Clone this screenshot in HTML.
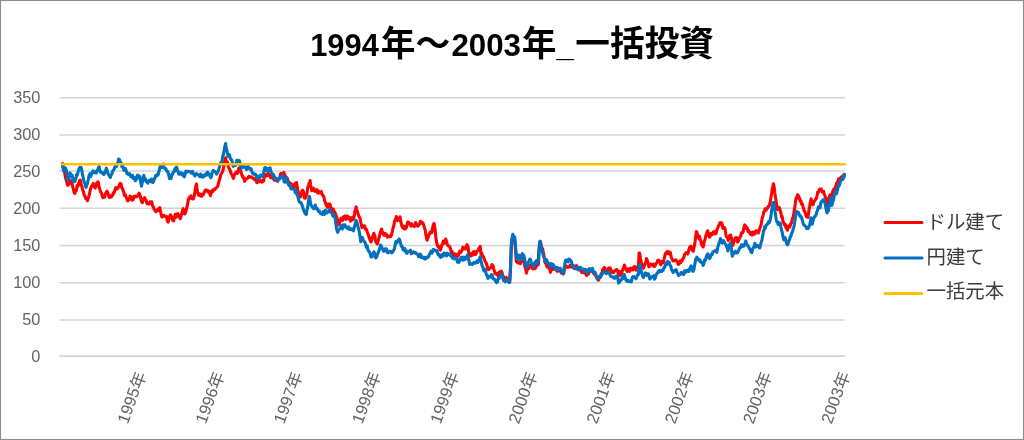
<!DOCTYPE html>
<html lang="ja">
<head>
<meta charset="utf-8">
<title>1994年～2003年_一括投資</title>
<style>
html,body{margin:0;padding:0;background:#fff;}
body{width:1024px;height:440px;overflow:hidden;font-family:"Liberation Sans","Noto Sans CJK JP",sans-serif;}
#chart{position:absolute;left:0;top:0;width:1024px;height:440px;box-sizing:border-box;background:#fff;}
svg{position:absolute;left:0;top:0;display:block;}
svg text{font-family:"Liberation Sans","Noto Sans CJK JP",sans-serif;}
svg{opacity:0.999;will-change:opacity;}
.frame{position:absolute;left:0;top:0;width:1024px;height:440px;box-sizing:border-box;border:1px solid #8c8c8c;border-right-width:1.4px;pointer-events:none;}
</style>
</head>
<body>
<div id="chart">
<svg width="1024" height="440" viewBox="0 0 1024 440">
<line x1="59.5" y1="97.70" x2="844.8" y2="97.70" stroke="#d4d4d4" stroke-width="1.6"/>
<line x1="59.5" y1="135.00" x2="844.8" y2="135.00" stroke="#d4d4d4" stroke-width="1.6"/>
<line x1="59.5" y1="171.00" x2="844.8" y2="171.00" stroke="#d4d4d4" stroke-width="1.6"/>
<line x1="59.5" y1="208.30" x2="844.8" y2="208.30" stroke="#d4d4d4" stroke-width="1.6"/>
<line x1="59.5" y1="245.50" x2="844.8" y2="245.50" stroke="#d4d4d4" stroke-width="1.6"/>
<line x1="59.5" y1="282.80" x2="844.8" y2="282.80" stroke="#d4d4d4" stroke-width="1.6"/>
<line x1="59.5" y1="320.00" x2="844.8" y2="320.00" stroke="#d4d4d4" stroke-width="1.6"/>
<line x1="59.5" y1="356.10" x2="844.8" y2="356.10" stroke="#d4d4d4" stroke-width="1.6"/>
<text x="40.3" y="103.00" text-anchor="end" font-size="16.3" fill="#636363">350</text>
<text x="40.3" y="140.00" text-anchor="end" font-size="16.3" fill="#636363">300</text>
<text x="40.3" y="177.00" text-anchor="end" font-size="16.3" fill="#636363">250</text>
<text x="40.3" y="214.00" text-anchor="end" font-size="16.3" fill="#636363">200</text>
<text x="40.3" y="251.00" text-anchor="end" font-size="16.3" fill="#636363">150</text>
<text x="40.3" y="288.00" text-anchor="end" font-size="16.3" fill="#636363">100</text>
<text x="40.3" y="325.00" text-anchor="end" font-size="16.3" fill="#636363">50</text>
<text x="40.3" y="362.00" text-anchor="end" font-size="16.3" fill="#636363">0</text>
<polyline points="62.6,163.5 63.1,167.1 63.6,168.8 64.2,171.7 64.8,173.3 65.4,176.9 66.0,179.4 66.7,181.5 67.2,184.3 67.8,185.3 68.5,184.4 69.3,182.3 69.9,180.1 70.4,180.6 71.1,183.0 71.7,183.2 72.5,185.8 73.3,188.9 74.0,191.8 74.8,193.5 75.6,191.2 76.4,190.4 77.2,185.4 78.0,186.2 78.7,183.1 79.5,180.9 80.2,180.2 80.8,182.0 81.3,185.3 81.9,186.4 82.4,188.8 83.0,190.5 83.6,192.3 84.2,195.0 85.0,196.5 85.8,198.7 86.6,198.6 87.4,200.8 88.2,198.3 88.9,196.1 89.6,193.5 90.2,190.1 91.0,187.5 91.8,186.1 92.5,185.6 93.3,183.4 94.0,185.6 94.6,187.1 95.3,188.0 96.0,185.9 96.8,182.9 97.6,183.3 98.1,181.8 98.7,184.5 99.3,187.9 99.9,189.5 100.7,192.1 101.5,193.2 102.3,196.5 103.1,197.8 103.8,197.2 104.6,197.2 105.3,194.2 105.9,192.9 106.4,192.2 107.0,191.1 107.8,192.7 108.5,195.6 109.3,197.3 110.1,195.6 110.9,197.2 111.7,196.4 112.5,195.3 113.3,192.8 114.0,193.2 114.8,190.1 115.6,187.6 116.4,187.6 117.2,189.0 118.0,187.7 118.7,186.9 119.5,184.8 120.3,183.3 121.1,183.8 121.6,187.2 122.2,187.9 123.0,190.1 123.8,192.3 124.5,195.8 125.3,194.8 126.1,197.0 126.9,198.9 127.7,201.0 128.5,200.2 129.3,199.7 130.0,196.0 130.8,196.9 131.6,197.8 132.4,200.2 133.2,199.7 134.0,196.4 134.7,196.6 135.4,196.1 136.0,196.9 136.8,196.6 137.6,196.1 138.4,194.5 139.1,193.1 139.9,194.9 140.7,198.0 141.5,201.5 142.3,202.7 143.1,200.2 143.8,198.7 144.6,197.7 145.4,199.7 146.2,200.5 147.0,203.7 147.8,203.7 148.5,203.7 149.3,204.0 150.1,201.9 150.9,202.0 151.7,201.9 152.5,205.6 153.3,206.8 154.0,209.1 154.8,209.8 155.6,211.7 156.4,211.4 157.2,209.8 158.0,210.6 158.9,208.4 159.8,207.6 160.5,211.3 161.1,213.8 161.9,217.0 162.7,216.3 163.5,215.6 164.2,215.4 165.0,216.1 165.8,216.8 166.6,216.6 167.4,221.3 168.2,222.0 168.9,218.6 169.7,216.2 170.5,214.8 171.3,216.3 172.1,218.7 172.9,220.5 173.6,220.9 174.4,217.2 175.2,214.3 176.0,217.3 176.8,214.0 177.7,213.5 178.7,216.4 179.5,215.3 180.2,218.7 181.0,216.4 181.8,213.1 182.4,211.1 183.1,208.7 183.8,211.7 184.6,214.0 185.4,212.9 186.2,210.1 187.0,207.0 187.8,202.6 188.5,199.3 189.3,197.3 190.1,198.1 190.9,195.8 191.7,198.1 192.5,198.9 193.3,198.9 194.0,196.9 194.7,193.6 195.3,189.3 195.8,186.4 196.4,184.0 196.9,188.0 197.5,191.5 198.1,194.0 198.7,195.2 199.5,193.8 200.3,195.8 201.1,194.5 201.9,196.1 202.7,194.0 203.5,194.5 204.2,192.3 205.0,190.6 205.8,189.8 206.6,190.6 207.4,190.4 208.2,192.0 208.9,191.1 209.7,193.4 210.5,195.7 211.3,192.0 212.1,190.7 212.9,191.5 213.6,189.4 214.8,189.5 216.1,187.9 217.3,186.9 218.0,185.3 218.8,181.7 219.5,179.9 220.1,177.5 220.9,174.5 221.6,173.2 222.4,171.9 223.2,169.2 224.0,165.0 224.8,161.7 225.6,157.8 226.1,160.8 226.7,162.3 227.5,162.0 228.2,166.2 228.9,168.0 229.5,169.0 230.3,170.8 231.1,173.5 231.8,174.7 232.6,176.4 233.4,178.3 234.2,175.3 235.0,173.6 235.8,172.7 236.5,172.0 237.3,173.4 238.1,171.3 238.9,168.1 239.5,168.0 240.0,169.1 240.8,171.4 241.6,174.4 242.4,175.7 243.1,178.0 243.9,177.6 244.7,181.3 245.5,179.0 246.3,178.8 247.1,178.5 247.8,178.2 248.9,176.4 249.9,176.9 250.7,176.7 251.5,177.4 252.4,178.2 253.3,178.0 254.3,179.4 255.2,179.9 256.0,179.0 256.8,182.7 257.6,180.2 258.4,181.2 259.4,181.9 260.4,180.6 261.2,180.5 262.0,182.1 262.7,181.5 263.5,181.1 264.3,176.7 265.1,176.7 265.9,174.6 266.7,174.6 267.5,175.5 268.2,173.4 269.0,174.5 269.8,175.5 270.6,177.7 271.4,176.5 272.2,177.9 272.9,178.1 273.7,179.0 274.5,180.1 275.3,179.7 276.1,180.4 276.9,180.4 277.6,181.3 278.4,178.5 279.2,178.7 280.0,176.7 280.8,173.5 281.6,173.6 282.4,175.1 283.1,173.3 283.9,172.5 284.7,175.0 285.5,176.7 286.3,177.3 287.1,178.1 287.8,179.6 288.6,182.1 289.4,182.6 290.2,185.1 291.0,183.7 291.8,186.2 292.5,186.3 293.3,184.7 294.1,187.5 294.7,186.1 295.4,183.1 295.9,185.3 296.5,182.6 297.0,185.6 297.6,189.3 298.2,192.1 298.8,193.9 299.6,195.5 300.4,197.0 301.2,193.9 302.0,190.9 302.6,190.2 303.2,191.1 303.8,193.3 304.3,197.9 304.9,198.3 305.4,198.3 306.0,196.7 306.7,194.9 307.3,191.1 307.9,186.7 308.5,186.1 309.0,183.4 309.6,184.2 310.1,180.5 310.6,184.4 311.1,187.4 311.8,190.8 312.6,190.2 313.4,188.2 314.2,189.0 315.0,191.4 315.8,190.5 316.1,191.1 316.9,189.7 317.6,193.0 318.4,190.9 319.5,192.9 320.5,192.3 321.3,191.5 322.0,194.3 323.0,195.5 323.9,197.0 324.7,201.0 325.5,202.8 326.1,205.1 326.7,205.6 327.5,207.3 328.3,204.0 329.1,206.2 329.9,204.0 330.4,205.8 331.0,208.1 331.8,210.8 332.5,209.1 333.3,209.1 334.1,212.0 334.9,212.3 335.7,214.3 336.5,216.8 337.3,218.9 337.8,222.0 338.4,224.9 339.0,223.2 339.6,223.5 340.4,220.2 341.2,218.2 342.0,217.9 342.7,220.3 343.5,216.8 344.3,217.0 345.1,216.0 345.9,219.5 346.7,218.1 347.5,216.0 348.2,217.3 349.0,219.1 349.8,217.6 350.6,221.2 351.4,218.7 352.2,217.4 352.9,219.8 353.7,218.8 354.4,214.7 355.0,210.8 355.5,209.7 356.1,206.9 356.6,209.4 357.2,210.8 357.8,213.0 358.4,214.9 359.2,216.8 360.0,218.1 360.6,221.5 361.3,224.4 362.0,227.6 362.8,227.2 363.8,225.7 364.7,226.0 365.5,229.2 366.3,229.2 367.1,231.5 367.8,233.5 368.6,235.8 369.4,238.2 370.2,240.4 371.0,241.9 371.8,239.7 372.5,236.6 373.2,235.6 373.8,233.3 374.4,234.8 374.9,236.5 375.5,240.7 376.0,242.2 376.6,243.1 377.3,243.9 378.0,241.5 378.8,238.6 379.6,235.5 380.4,231.8 381.0,231.2 381.6,229.0 382.2,231.5 382.7,233.1 383.5,234.6 384.3,235.4 385.1,233.3 385.9,234.3 386.7,234.7 387.5,237.2 388.2,236.4 389.0,236.0 389.8,236.6 390.6,236.7 391.4,235.0 392.2,232.1 392.9,228.5 393.7,226.3 394.5,221.5 395.3,219.5 395.8,218.9 396.4,216.5 397.0,220.2 397.6,220.6 398.3,219.6 398.9,218.7 399.5,219.3 400.0,216.7 400.5,220.2 401.1,222.9 401.7,225.5 402.4,227.5 403.1,228.0 403.9,226.2 404.7,229.1 405.5,228.8 406.3,227.8 407.1,224.8 407.8,222.0 408.6,222.2 409.4,223.5 410.2,224.5 411.0,226.1 411.8,223.8 412.5,225.1 413.3,225.5 414.1,226.5 414.9,226.1 415.7,222.6 416.5,224.3 417.3,226.0 418.0,226.1 418.8,225.1 419.6,224.0 420.4,221.3 421.2,223.4 422.0,222.2 422.7,222.9 423.5,224.2 424.3,227.3 425.1,229.8 425.9,234.4 426.5,237.9 427.1,240.2 427.9,237.6 428.7,235.4 429.5,233.9 430.3,232.1 431.1,232.5 431.8,232.6 432.4,228.8 432.9,226.2 433.5,224.4 434.0,223.4 434.5,225.7 435.0,229.4 435.0,228.9 435.5,233.7 436.0,238.8 436.7,242.7 437.5,245.9 438.3,247.1 439.1,246.7 439.7,248.7 440.4,250.2 441.1,247.8 441.8,244.8 442.5,244.3 443.3,241.0 444.1,243.4 444.9,241.7 445.7,239.0 446.5,241.5 447.3,244.6 448.0,245.7 448.8,245.7 449.6,246.6 450.4,248.5 451.2,251.9 452.0,251.3 452.7,254.3 453.5,253.3 454.3,255.8 455.1,257.4 455.9,254.2 456.7,256.8 457.5,255.7 458.2,255.9 459.0,253.0 459.8,251.0 460.6,252.6 461.4,251.3 462.2,250.1 462.9,247.2 463.7,247.9 464.5,248.4 465.3,249.1 465.8,247.2 466.4,246.0 467.0,244.7 467.6,245.4 468.1,247.0 468.6,251.5 469.3,254.1 470.0,253.4 470.8,256.1 471.6,254.6 472.4,255.2 473.1,252.2 473.9,251.6 474.7,251.6 475.5,254.5 476.3,252.8 477.1,251.2 477.8,250.9 478.6,248.8 479.4,247.8 480.2,246.3 481.0,254.0 481.8,253.2 482.5,255.8 483.3,256.4 484.1,258.4 484.9,260.9 485.7,262.2 486.5,263.8 487.3,266.8 488.0,269.3 488.8,269.7 489.6,268.5 490.4,267.5 491.2,267.6 492.0,264.5 492.5,266.5 493.1,265.8 493.7,269.1 494.3,270.5 495.1,273.4 495.9,274.1 496.7,273.6 497.5,274.4 498.2,276.1 499.0,272.2 500.0,272.1 500.9,271.1 501.5,271.3 502.2,273.5 502.8,275.8 503.4,276.4 504.2,278.4 505.0,278.1 505.8,278.3 506.5,277.5 507.3,279.0 508.1,280.9 508.9,280.3 509.7,282.4 510.5,269.1 511.3,246.5 512.0,240.1 512.8,236.3 513.6,238.4 514.2,238.0 514.7,240.2 515.5,249.4 516.3,261.7 517.1,260.9 517.8,263.0 518.6,262.1 519.4,262.9 520.2,263.8 521.0,261.7 521.8,260.0 522.5,259.5 523.3,261.3 524.1,262.5 524.7,265.6 525.4,268.2 525.9,270.2 526.5,273.1 527.3,268.9 528.0,269.1 528.8,268.5 529.6,267.4 530.4,265.0 531.2,265.5 532.0,266.3 532.7,268.9 533.5,268.0 534.3,268.4 535.1,268.7 535.9,267.5 536.7,263.7 537.5,264.2 538.0,264.9 538.5,263.6 539.3,247.0 539.8,244.9 540.3,241.4 540.8,243.8 541.4,246.4 542.0,248.2 542.6,248.6 543.2,251.9 543.7,253.7 544.3,257.4 544.8,261.3 545.6,263.3 546.4,264.7 547.2,267.2 548.0,266.4 548.7,267.8 549.5,268.8 550.0,270.2 550.5,272.3 551.3,268.5 552.0,269.6 552.8,267.4 553.6,269.1 554.4,269.3 555.2,268.7 556.0,268.5 556.7,270.9 557.5,271.3 558.3,270.2 559.1,268.5 559.9,269.8 560.7,271.9 561.5,273.1 562.2,273.2 563.0,274.0 563.6,273.8 564.1,271.2 564.9,267.1 565.5,266.1 566.2,266.1 566.9,266.6 567.7,267.5 568.5,267.0 569.3,267.0 570.1,265.2 570.9,266.1 571.6,266.9 572.4,266.3 573.2,265.3 574.0,268.3 574.8,268.7 575.6,267.3 576.4,265.6 577.1,266.3 577.9,269.4 578.7,268.5 579.5,267.7 580.3,270.3 581.1,271.0 581.8,272.6 582.6,270.4 583.4,272.0 584.2,272.9 585.0,272.2 585.5,272.4 586.5,275.5 587.5,273.4 588.5,274.1 589.4,270.9 590.4,269.7 591.3,271.1 592.3,270.5 593.3,273.1 594.1,273.7 594.9,274.7 595.7,275.2 596.5,277.5 597.5,279.2 598.5,280.2 599.5,276.5 600.4,276.7 601.2,273.6 602.0,273.9 602.7,269.8 603.5,268.9 604.3,267.4 605.1,268.8 605.9,271.3 606.7,270.6 607.5,269.7 608.2,268.5 608.9,269.9 609.5,267.9 610.3,268.0 611.1,271.5 612.0,272.5 612.9,271.3 613.7,272.6 614.5,271.2 615.5,270.0 616.4,269.5 617.0,269.5 617.6,271.2 618.3,273.8 618.9,275.8 619.5,275.0 620.2,271.4 620.9,275.1 621.6,273.2 622.4,270.8 623.1,268.9 623.8,267.3 624.4,265.0 624.9,266.3 625.5,269.0 626.3,269.3 627.1,271.5 628.0,268.8 628.9,269.6 629.7,271.3 630.5,268.1 631.3,268.6 632.1,269.7 632.9,269.9 633.6,267.4 634.4,266.5 635.2,268.2 636.0,270.2 636.8,267.0 637.6,267.8 638.4,266.7 639.1,253.1 639.6,253.1 640.1,255.9 640.6,259.1 641.2,262.3 641.8,265.5 642.4,267.1 643.0,267.2 643.5,268.1 644.1,266.8 644.6,264.4 645.3,263.0 645.9,262.1 646.5,258.6 647.1,259.9 647.7,262.0 648.2,264.5 649.0,266.8 649.8,265.7 650.6,264.0 651.4,264.2 652.2,264.7 652.9,266.0 653.7,264.1 654.5,266.5 655.3,265.4 656.1,263.4 656.9,262.9 657.6,260.6 658.4,260.0 659.2,260.9 660.0,262.1 660.8,264.9 661.6,261.6 662.4,262.2 663.1,262.8 663.9,259.9 664.7,256.5 665.5,253.2 666.3,253.2 667.1,251.5 667.8,253.6 668.6,251.8 669.4,254.0 670.2,252.1 670.7,254.6 671.3,257.3 672.1,259.2 672.9,260.9 673.6,260.6 674.4,260.7 675.2,260.0 676.0,259.9 676.8,261.6 677.6,262.5 678.4,264.4 679.1,263.9 679.9,261.0 680.7,262.7 681.5,260.3 682.3,260.6 683.1,258.3 683.8,257.8 684.6,254.3 685.4,253.7 686.2,252.6 687.0,252.7 687.8,254.0 688.5,251.2 689.2,248.7 689.8,246.9 690.4,249.0 691.1,246.3 691.6,247.4 692.2,250.1 692.7,250.5 693.3,251.2 693.9,247.2 694.5,245.5 695.1,241.4 695.6,236.8 696.4,231.5 696.9,232.1 697.3,234.9 697.9,234.8 698.4,237.1 699.0,239.1 699.5,236.3 700.2,239.3 700.8,240.6 701.4,243.9 702.0,245.4 702.6,244.8 703.1,246.9 703.7,245.2 704.2,241.6 704.9,239.8 705.5,237.1 706.1,234.8 706.7,233.5 707.3,230.9 707.8,230.8 708.4,233.3 708.9,236.3 709.6,237.2 710.2,236.3 710.8,233.5 711.5,234.2 712.2,234.6 713.0,232.4 713.8,231.7 714.6,231.6 715.4,233.9 716.2,233.1 716.7,230.6 717.3,229.0 717.8,227.7 718.4,226.0 719.1,225.4 719.9,222.8 720.1,222.9 720.6,224.0 721.2,222.6 721.7,222.9 722.3,224.7 722.9,228.4 723.5,227.1 724.2,228.1 724.8,227.9 725.3,230.8 725.9,234.5 726.4,236.6 727.0,237.4 727.6,237.4 728.2,240.5 728.9,237.9 729.5,235.9 730.1,237.9 730.7,235.1 731.3,238.2 731.8,239.8 732.4,243.4 732.9,245.4 733.6,242.5 734.2,239.8 734.7,239.3 735.3,237.9 735.8,239.9 736.4,237.6 737.0,240.6 737.6,242.1 738.3,241.2 738.9,239.3 739.5,238.0 740.2,236.9 740.8,236.1 741.4,232.9 742.0,232.9 742.7,232.8 743.3,231.1 743.9,227.6 744.7,224.9 745.5,226.0 746.1,228.5 746.7,227.4 747.4,228.2 748.0,231.4 748.6,230.5 749.3,232.2 749.9,233.1 750.5,234.4 751.3,232.6 752.1,235.1 752.9,232.1 753.6,232.0 754.4,234.1 755.2,233.6 756.0,230.7 756.8,230.8 757.6,231.7 758.4,233.0 759.0,231.2 759.6,229.1 760.2,227.0 760.9,225.5 761.4,223.1 762.0,218.7 762.5,217.4 763.1,215.4 763.7,212.1 764.3,211.7 765.1,208.8 765.9,210.4 766.7,209.2 767.5,208.1 768.2,206.3 769.0,206.4 769.6,204.4 770.3,201.7 770.8,198.6 771.4,194.7 771.9,191.6 772.5,187.6 772.9,186.4 773.4,183.8 773.9,185.7 774.4,189.1 774.8,193.0 775.3,196.3 775.9,199.7 776.5,204.2 777.1,206.6 777.6,209.7 778.4,209.0 779.2,207.3 779.8,209.0 780.3,210.5 780.9,212.8 781.6,217.0 782.2,216.4 782.8,220.4 783.6,222.8 784.4,224.6 785.2,224.1 786.0,227.8 786.7,228.0 787.5,230.2 788.3,226.1 789.1,226.9 789.9,226.9 790.7,223.5 791.5,222.9 792.2,219.3 793.0,217.7 793.8,213.6 794.4,209.8 795.1,205.0 795.7,200.1 796.3,197.7 796.9,198.4 797.6,194.7 798.2,195.3 798.8,196.9 799.5,197.7 800.1,201.1 800.9,200.8 801.6,204.1 802.4,203.8 803.2,207.4 804.0,210.5 804.8,211.5 805.6,214.0 806.4,216.8 807.1,216.7 807.9,217.4 808.5,213.8 809.0,209.8 809.6,207.4 810.1,203.0 810.6,201.8 811.1,198.8 811.6,202.8 812.2,204.2 812.7,204.7 813.3,204.5 813.9,202.0 814.5,201.0 815.3,199.8 816.1,198.9 816.9,196.7 817.6,192.4 818.3,192.6 818.9,190.4 819.7,189.2 820.5,189.9 821.3,189.0 822.0,191.9 822.8,191.6 823.6,191.4 824.2,194.1 824.9,195.5 825.6,197.7 826.3,201.6 826.8,201.8 827.4,204.9 828.0,200.6 828.6,198.2 829.3,197.3 829.9,195.0 830.5,196.7 831.1,197.6 831.8,194.7 832.5,192.3 833.1,190.6 833.6,189.5 834.3,188.6 834.9,188.6 835.5,187.7 836.2,184.7 836.9,182.6 837.7,182.6 838.5,178.9 839.3,178.9 840.1,178.5 840.9,177.5 841.6,176.9 842.4,176.2 843.2,176.0 844.0,174.4" fill="none" stroke="#ff0000" stroke-width="3.1" stroke-linejoin="round" stroke-linecap="round"/>
<polyline points="62.6,165.9 63.1,168.1 63.5,170.7 64.1,169.8 64.6,167.4 65.2,167.9 65.7,168.4 66.4,170.4 67.0,173.7 67.8,180.3 68.3,179.0 68.9,176.1 69.5,174.4 70.1,172.9 70.7,176.3 71.4,176.5 72.2,175.1 72.9,179.4 73.9,181.9 74.8,181.4 75.5,179.6 76.1,177.0 76.6,174.2 77.2,175.4 78.0,172.1 78.7,170.0 79.3,168.2 79.8,167.3 80.5,167.7 81.1,167.3 81.6,170.0 82.0,171.4 82.5,174.4 83.0,176.9 83.6,179.9 84.2,182.3 84.9,183.5 85.5,186.5 86.1,187.4 86.7,185.4 87.5,182.7 88.2,179.6 88.7,177.1 89.3,174.9 90.0,173.7 90.8,176.6 91.5,173.9 92.1,172.9 92.9,170.9 93.6,171.5 94.3,172.8 94.9,172.7 95.5,171.6 96.2,173.0 96.9,170.5 97.6,170.0 98.4,167.8 99.1,166.6 99.7,169.6 100.2,171.9 101.0,171.5 101.8,172.9 102.4,172.6 103.1,173.9 103.8,174.5 104.6,173.0 105.3,171.7 105.9,169.8 106.4,168.2 107.0,170.4 107.5,171.2 108.1,173.8 108.9,175.1 109.6,176.2 110.3,177.5 110.9,175.3 111.7,174.4 112.5,171.4 113.4,170.2 114.4,168.4 115.1,166.4 115.9,166.8 116.7,166.1 117.5,163.1 118.1,162.3 118.7,159.0 119.4,159.5 120.0,161.1 120.5,162.2 121.1,162.7 121.9,167.0 122.7,165.3 123.2,167.4 123.8,170.3 124.4,168.6 125.0,168.6 125.6,168.6 126.3,171.3 127.1,173.7 127.8,174.0 128.6,174.6 129.4,173.5 130.2,174.7 131.0,177.0 131.8,175.6 132.5,175.4 133.3,178.5 134.1,177.8 134.7,177.6 135.2,180.8 136.0,180.3 136.8,177.1 137.6,175.0 138.4,175.8 139.1,178.1 139.9,176.3 140.7,182.0 141.5,186.3 142.0,183.7 142.6,181.4 143.2,178.1 143.8,175.2 144.6,179.8 145.4,178.7 146.2,181.7 147.0,181.9 147.8,183.1 148.5,181.0 149.3,180.2 150.1,180.9 150.9,181.8 151.7,179.1 152.3,179.9 152.9,182.5 153.7,181.0 154.5,178.7 155.5,175.9 156.4,176.1 157.2,174.3 158.0,175.1 158.6,172.9 159.2,170.5 159.8,167.8 160.3,166.0 161.1,166.5 161.9,167.6 162.7,164.2 163.5,164.0 164.0,166.6 164.5,168.4 165.2,168.6 165.8,168.6 166.4,170.4 167.1,171.4 167.8,171.6 168.6,174.3 169.4,178.4 170.2,178.0 171.0,178.6 171.8,174.3 172.5,174.4 173.3,172.1 174.1,171.6 174.9,168.7 175.7,170.8 176.5,167.1 177.3,169.5 178.0,171.1 178.8,174.0 179.6,174.2 180.4,173.9 181.2,172.7 182.0,174.9 182.7,173.4 183.5,175.8 184.3,176.9 185.1,174.4 185.9,171.2 186.7,172.3 187.5,171.3 188.4,171.3 189.3,171.6 190.1,171.6 190.9,173.1 191.7,173.0 192.5,171.3 193.3,173.6 194.0,174.7 194.8,175.9 195.6,175.0 196.4,173.6 197.2,174.2 198.1,174.9 199.1,175.2 199.8,176.6 200.6,174.0 201.4,176.8 202.2,175.5 203.0,177.1 203.8,176.8 204.5,174.8 205.3,175.7 206.4,173.6 207.5,172.1 208.3,175.0 209.1,173.7 209.9,175.3 210.7,177.7 211.5,176.1 212.2,172.8 213.2,170.3 214.1,171.1 214.9,171.8 215.7,171.7 216.6,174.1 217.6,172.3 218.4,171.0 219.1,168.1 219.8,165.5 220.4,163.1 221.2,163.2 222.0,160.9 222.7,156.7 223.5,154.0 224.2,150.3 224.8,146.8 225.6,143.6 226.1,147.0 226.7,149.8 227.3,152.6 227.9,156.3 228.7,154.4 229.5,154.7 230.1,157.7 230.7,159.6 231.5,159.6 232.2,161.5 232.7,164.3 233.3,166.4 234.0,164.7 234.8,165.5 235.6,165.5 236.4,161.6 237.2,160.1 238.0,161.5 238.7,163.8 239.5,160.7 240.3,165.2 241.1,168.1 241.9,166.7 242.7,167.7 243.5,164.6 244.2,165.6 245.0,167.3 245.8,167.8 246.6,169.5 247.4,166.6 248.2,166.3 248.9,167.8 250.0,169.3 251.0,168.6 251.8,171.3 252.5,173.0 253.3,174.1 254.1,173.6 254.9,174.7 255.7,174.4 256.5,176.9 257.3,178.3 258.0,176.3 258.8,178.1 259.6,177.9 260.4,175.1 261.2,175.1 262.0,176.3 262.7,175.9 263.5,173.5 264.1,170.5 264.6,167.7 265.4,167.5 266.2,169.3 267.0,171.0 267.8,168.7 268.5,170.7 269.3,168.4 270.1,167.8 270.9,171.0 271.7,173.2 272.5,175.0 273.3,174.4 274.0,175.9 274.8,178.3 275.6,177.9 276.4,180.6 277.2,179.6 278.0,180.0 278.7,178.3 279.5,179.2 280.3,178.0 281.1,177.2 281.9,176.2 282.7,175.6 283.5,178.9 284.2,181.9 285.0,182.2 285.8,179.5 286.6,177.9 287.2,179.4 287.8,182.9 288.6,184.7 289.4,185.7 290.2,185.6 291.0,189.0 291.9,189.0 292.9,188.9 293.6,189.1 294.4,189.0 295.4,192.9 296.3,191.1 297.3,195.3 297.9,196.5 298.5,199.1 299.3,201.9 300.1,202.6 301.0,202.5 302.0,204.9 302.7,207.3 303.5,209.5 304.3,211.7 305.1,213.6 305.7,213.1 306.4,214.4 306.9,210.4 307.5,208.3 308.0,205.0 308.5,200.6 309.0,199.0 309.5,196.6 310.0,199.8 310.6,204.0 311.4,205.4 312.2,206.9 312.9,207.1 313.7,208.7 314.5,208.7 315.3,205.1 316.1,208.1 316.9,208.2 317.6,209.3 318.4,211.3 319.5,211.0 320.5,213.6 321.4,213.9 322.4,214.5 323.3,211.7 324.2,214.5 324.9,212.0 325.5,210.2 326.3,213.0 327.1,212.9 327.8,211.9 328.6,211.6 329.4,209.6 330.2,212.0 331.1,212.0 332.1,213.7 332.9,215.9 333.6,214.6 334.4,216.9 335.2,218.3 335.8,223.2 336.5,228.3 337.1,230.7 337.7,232.3 338.5,230.3 339.3,229.4 340.1,228.3 340.9,226.9 341.6,225.6 342.4,229.0 343.2,224.7 344.0,224.7 344.8,224.8 345.6,227.2 346.4,226.8 347.1,228.1 347.9,228.6 348.7,226.9 349.5,229.5 350.3,228.5 351.1,229.7 351.8,229.5 352.6,229.0 353.4,230.8 354.2,227.9 355.0,225.0 355.5,222.8 356.1,220.6 356.6,221.5 357.2,223.1 357.8,225.9 358.4,227.9 359.1,230.8 359.7,234.6 360.2,237.7 360.8,241.7 361.6,237.8 362.4,237.5 363.1,240.1 363.9,241.0 364.7,241.8 365.5,243.7 366.3,247.2 367.1,245.9 367.8,249.3 368.6,251.2 369.4,251.7 370.2,253.8 371.0,256.9 371.8,257.0 372.3,254.4 372.9,255.8 373.3,253.0 373.8,251.8 374.4,252.8 374.9,255.7 375.7,257.9 376.5,257.3 377.3,254.9 378.0,253.1 378.8,251.1 379.6,249.0 380.4,245.1 381.2,245.7 382.0,248.4 382.7,248.8 383.5,251.2 384.3,251.3 385.1,248.8 385.9,248.8 386.7,249.0 387.5,252.8 388.2,252.6 389.0,252.5 389.8,251.3 390.7,251.3 391.7,252.9 392.5,252.2 393.3,250.6 394.3,249.2 395.3,244.1 396.1,241.3 396.9,242.7 397.6,240.8 398.4,240.7 399.0,239.0 399.5,239.3 400.2,241.8 400.8,244.0 401.6,246.5 402.4,247.1 403.1,249.7 403.9,250.3 404.7,248.5 405.5,250.3 406.3,253.1 407.1,253.3 407.8,251.3 408.6,251.3 409.6,251.6 410.5,250.2 411.3,253.8 412.1,253.3 412.9,252.9 413.6,251.9 414.7,252.6 415.7,252.6 416.7,254.0 417.7,254.3 418.7,256.9 419.6,255.7 420.4,254.2 421.2,257.5 422.0,256.4 422.7,257.7 423.5,258.4 424.3,257.3 425.1,259.0 425.9,258.7 426.7,257.1 427.7,257.5 428.7,256.4 429.5,253.9 430.3,253.2 431.1,251.2 431.8,253.2 432.6,251.8 433.4,249.4 434.4,249.7 435.3,250.9 436.3,250.5 437.1,250.6 437.8,254.3 438.6,254.9 439.4,254.6 440.0,256.9 440.7,257.4 441.5,256.3 442.2,254.7 443.2,256.1 444.1,252.9 444.9,253.9 445.7,253.9 446.5,256.0 447.3,253.2 448.0,254.7 448.8,254.6 449.6,253.8 450.4,255.5 451.2,254.8 452.0,257.5 452.7,258.3 453.5,258.8 454.3,257.7 455.1,258.9 455.9,258.7 456.7,258.9 457.5,262.2 458.2,261.4 459.0,262.3 459.8,259.1 460.6,259.9 461.4,257.2 462.2,259.3 462.9,260.2 463.7,257.2 464.5,259.7 465.5,257.3 466.4,258.8 467.0,256.3 467.6,254.9 468.3,258.3 468.9,260.3 469.7,264.4 470.5,263.4 471.4,264.1 472.4,264.5 473.3,263.0 474.2,262.4 475.3,263.1 476.3,262.1 477.1,261.0 477.8,262.4 478.6,260.3 479.4,259.5 480.2,256.8 480.8,259.6 481.5,262.9 482.2,266.0 483.0,267.3 483.8,270.9 484.6,271.1 485.4,269.7 486.2,274.0 486.7,275.4 487.3,275.3 488.0,278.4 488.8,276.8 489.8,276.4 490.9,277.1 491.6,274.5 492.4,275.4 493.2,278.9 494.0,278.9 494.9,279.5 495.9,281.8 496.7,282.7 497.5,281.8 498.2,278.3 499.0,278.7 499.8,277.5 500.6,276.3 501.2,274.1 501.8,275.4 502.4,276.2 502.9,278.4 503.5,280.4 504.0,280.7 504.7,280.1 505.3,281.8 506.1,280.5 506.9,280.6 507.6,280.6 508.4,281.8 509.1,282.5 509.7,280.5 510.5,268.5 511.3,244.8 512.0,238.5 512.8,234.3 513.6,237.2 514.2,236.6 514.7,237.2 515.5,245.9 516.3,255.9 517.1,259.8 517.6,259.1 518.2,257.8 518.8,255.1 519.4,255.2 520.0,258.2 520.7,259.7 521.2,259.4 521.8,255.6 522.3,253.7 522.9,254.5 523.5,255.0 524.1,256.0 524.9,260.4 525.5,264.0 526.0,265.9 526.5,265.2 526.9,267.8 527.5,265.6 528.0,263.8 528.6,261.8 529.1,261.2 529.8,259.1 530.4,259.3 531.0,261.9 531.6,262.7 532.2,263.2 532.7,265.2 533.3,266.6 533.8,264.6 534.5,264.8 535.1,262.2 535.7,261.7 536.4,260.7 536.9,263.8 537.5,263.3 538.2,261.5 539.0,248.9 539.8,241.3 540.6,242.5 541.4,249.9 542.2,251.1 542.9,254.0 543.6,256.3 544.2,258.1 545.0,261.8 545.8,260.4 546.5,259.7 547.3,262.1 548.1,262.7 548.9,263.9 549.7,264.2 550.5,267.3 551.0,263.6 551.6,263.8 552.4,265.5 553.1,264.3 553.9,265.4 554.7,267.9 555.5,269.6 556.3,269.4 557.1,267.4 557.8,268.0 558.6,269.7 559.4,268.8 560.2,268.1 561.0,271.0 561.8,271.7 562.5,273.0 563.1,273.8 563.6,272.2 564.1,268.2 564.6,265.7 565.1,262.4 565.7,260.1 566.5,260.0 567.3,261.3 568.0,261.9 568.8,259.1 569.6,259.4 570.4,260.2 570.9,260.6 571.5,261.8 572.1,264.1 572.7,266.1 573.5,267.4 574.3,268.1 575.1,267.3 575.9,267.4 576.7,267.8 577.5,267.6 578.2,269.9 579.0,269.8 579.8,267.7 580.6,267.3 581.4,268.7 582.2,269.1 582.9,269.0 583.7,269.2 584.4,270.1 585.0,271.2 585.8,269.4 586.6,272.3 587.4,273.1 588.2,270.6 588.8,269.1 589.4,268.7 590.2,270.9 591.0,269.0 591.8,270.1 592.5,268.3 593.3,271.8 594.1,272.5 594.9,272.2 595.7,274.0 596.3,276.9 596.9,276.9 597.7,278.5 598.5,277.5 599.3,276.5 600.1,277.8 600.9,276.5 601.6,274.5 602.4,273.5 603.2,272.6 604.0,272.8 604.8,272.2 605.6,271.8 606.4,273.6 607.1,273.0 607.9,272.1 608.7,273.2 609.5,272.9 610.3,275.6 611.1,276.2 612.0,276.8 612.9,276.9 613.9,278.3 614.8,278.3 615.6,276.5 616.4,276.0 617.2,276.1 618.0,279.7 618.7,283.1 619.5,282.1 620.3,280.1 621.1,280.2 621.9,278.7 622.7,276.5 623.5,278.3 624.2,274.5 624.9,276.9 625.5,278.5 626.3,280.7 627.1,281.4 628.0,280.1 628.9,281.5 629.7,281.4 630.5,281.0 631.3,281.9 632.1,278.3 632.9,276.7 633.6,277.1 634.4,276.8 635.2,277.9 636.0,278.7 636.8,277.1 637.6,274.8 638.4,274.7 638.8,270.2 639.3,265.3 639.8,266.7 640.4,264.8 640.9,268.8 641.5,272.8 642.1,274.5 642.7,276.4 643.5,277.5 644.3,275.4 645.1,273.0 645.9,273.1 646.7,275.5 647.5,273.7 648.2,273.7 649.0,275.2 649.8,279.0 650.6,278.3 651.4,276.8 652.2,277.0 652.9,276.6 653.7,275.7 654.5,279.2 655.3,278.0 656.1,274.9 656.9,273.6 657.6,272.9 658.4,271.2 659.2,272.0 660.0,270.3 660.8,271.5 661.6,271.5 662.4,269.8 663.1,270.3 663.9,267.6 664.7,267.4 665.3,264.8 666.0,263.1 666.7,264.7 667.5,261.5 668.3,262.6 669.1,262.1 669.9,265.2 670.7,265.7 671.5,269.8 672.2,270.5 673.0,272.5 673.8,271.4 674.6,270.4 675.4,271.1 676.2,269.6 676.9,272.2 677.7,273.2 678.5,275.5 679.5,274.6 680.4,274.5 681.2,272.5 682.0,273.6 682.7,273.0 683.5,274.6 684.3,271.1 685.1,272.8 685.9,270.5 686.7,271.5 687.5,271.1 688.2,269.9 689.0,271.4 689.8,268.7 690.4,267.0 691.1,265.9 691.6,267.0 692.2,269.0 692.7,271.2 693.3,271.1 693.9,269.4 694.5,265.9 695.1,262.6 695.8,258.8 696.3,259.8 696.9,257.2 697.4,258.4 698.0,258.7 698.6,259.5 699.2,260.9 700.0,260.0 700.8,262.1 701.6,262.6 702.4,262.6 703.1,265.4 703.9,263.4 704.7,259.9 705.5,259.9 706.1,257.3 706.7,255.5 707.3,255.1 707.8,253.8 708.4,255.8 708.9,257.9 709.7,258.5 710.5,256.8 711.3,254.3 712.1,254.6 712.9,251.8 713.6,251.9 714.4,250.9 715.2,250.7 716.0,250.2 716.8,252.5 717.4,248.7 718.0,246.4 718.7,244.0 719.3,242.7 719.8,241.2 720.4,238.6 721.2,240.3 722.0,243.0 722.7,242.4 723.5,240.7 724.3,241.9 725.1,244.0 725.9,244.2 726.7,246.9 727.3,247.8 727.9,251.0 728.5,247.7 729.2,245.5 729.8,244.2 730.4,242.9 730.9,246.1 731.4,248.4 731.8,252.2 732.3,256.3 733.0,253.1 733.7,253.9 734.5,252.5 735.3,251.2 736.1,252.7 736.9,252.9 737.6,252.7 738.4,250.8 739.2,249.0 740.0,247.5 740.8,247.4 741.6,244.7 742.4,245.3 743.1,246.3 743.9,246.0 744.7,243.8 745.3,242.9 745.8,240.9 746.4,244.0 747.1,244.7 747.8,245.7 748.6,246.8 749.4,248.6 750.2,249.5 751.0,252.0 751.8,252.7 752.5,249.4 753.3,247.5 754.1,247.0 754.9,243.3 755.7,247.1 756.5,246.5 757.3,245.3 758.0,246.2 758.8,246.3 759.6,248.0 760.4,245.5 761.2,242.0 761.8,240.8 762.4,237.4 763.0,234.4 763.5,230.6 764.1,230.3 764.6,226.7 765.4,228.1 766.2,225.2 767.0,224.6 767.8,223.7 768.5,221.7 769.3,222.8 770.0,220.5 770.6,217.9 771.2,213.9 771.8,209.4 772.4,207.3 772.9,202.7 773.7,202.4 774.2,203.8 774.7,207.2 775.1,212.0 775.6,215.1 776.2,219.3 776.9,221.9 777.5,221.8 778.1,224.5 778.7,224.4 779.2,222.8 779.8,223.5 780.3,223.1 780.9,227.0 781.6,230.3 782.2,232.3 782.8,235.5 783.4,238.6 783.9,239.8 784.5,238.7 785.0,237.6 785.6,239.3 786.3,242.1 786.9,244.0 787.5,244.8 788.2,243.6 788.8,241.1 789.5,239.7 790.2,237.3 791.0,235.9 791.8,232.8 792.5,231.7 793.3,228.3 794.0,226.7 794.6,222.9 795.1,219.2 795.7,215.5 796.3,213.6 796.9,211.4 797.6,212.6 798.2,212.3 798.8,212.9 799.5,215.1 799.9,216.2 800.4,215.9 801.2,216.7 802.0,219.0 802.7,221.6 803.5,224.6 804.3,225.1 805.1,226.2 805.9,226.6 806.7,228.6 807.5,227.7 808.2,228.4 809.0,227.0 809.8,224.6 810.4,221.1 811.1,217.7 811.6,221.5 812.2,224.2 812.7,222.8 813.3,219.8 813.9,218.0 814.5,216.7 815.3,216.0 816.1,215.0 816.7,212.0 817.3,210.9 817.9,209.0 818.4,206.8 819.2,206.9 820.0,207.9 820.5,204.9 821.1,201.8 821.7,201.8 822.4,200.4 823.0,199.9 823.6,199.5 824.2,200.1 824.7,202.5 825.3,204.1 825.8,207.8 826.4,209.8 827.1,212.9 827.7,209.4 828.3,211.1 828.9,206.7 829.4,204.3 830.0,202.3 830.5,197.7 831.1,201.8 831.8,205.4 832.4,203.5 833.0,201.0 833.6,199.5 834.1,196.2 834.7,193.4 835.2,191.4 835.8,193.4 836.5,193.9 837.1,190.8 837.7,189.3 838.3,186.2 838.8,184.6 839.4,185.4 839.9,183.2 840.5,181.3 841.2,180.1 841.8,178.6 842.4,179.2 843.0,179.4 843.5,176.2 844.1,177.1 844.6,174.4" fill="none" stroke="#0070c0" stroke-width="3.1" stroke-linejoin="round" stroke-linecap="round"/>
<line x1="62.5" y1="164.2" x2="844.6" y2="164.2" stroke="#ffc000" stroke-width="2.6" stroke-linecap="round"/>
<line x1="885" y1="222.6" x2="922" y2="222.6" stroke="#ff0000" stroke-width="3" stroke-linecap="round"/>
<text x="926.6" y="229.0" font-size="19.4" fill="#3c3c3c">ドル建て</text>
<line x1="885" y1="258.1" x2="922" y2="258.1" stroke="#0070c0" stroke-width="3" stroke-linecap="round"/>
<text x="926.6" y="263.7" font-size="19.4" fill="#3c3c3c">円建て</text>
<line x1="885" y1="293.5" x2="922" y2="293.5" stroke="#ffc000" stroke-width="3" stroke-linecap="round"/>
<text x="926.6" y="298.4" font-size="19.4" fill="#3c3c3c">一括元本</text>
<g transform="translate(146.00 374.30) rotate(-70)"><text x="-16.90" y="0" text-anchor="end" font-size="16.5" fill="#636363">1995</text><text x="-16.60" y="0.6" font-size="16.6" fill="#636363">年</text></g>
<g transform="translate(224.20 374.30) rotate(-70)"><text x="-16.90" y="0" text-anchor="end" font-size="16.5" fill="#636363">1996</text><text x="-16.60" y="0.6" font-size="16.6" fill="#636363">年</text></g>
<g transform="translate(302.40 374.30) rotate(-70)"><text x="-16.90" y="0" text-anchor="end" font-size="16.5" fill="#636363">1997</text><text x="-16.60" y="0.6" font-size="16.6" fill="#636363">年</text></g>
<g transform="translate(380.60 374.30) rotate(-70)"><text x="-16.90" y="0" text-anchor="end" font-size="16.5" fill="#636363">1998</text><text x="-16.60" y="0.6" font-size="16.6" fill="#636363">年</text></g>
<g transform="translate(458.80 374.30) rotate(-70)"><text x="-16.90" y="0" text-anchor="end" font-size="16.5" fill="#636363">1999</text><text x="-16.60" y="0.6" font-size="16.6" fill="#636363">年</text></g>
<g transform="translate(537.00 374.30) rotate(-70)"><text x="-16.90" y="0" text-anchor="end" font-size="16.5" fill="#636363">2000</text><text x="-16.60" y="0.6" font-size="16.6" fill="#636363">年</text></g>
<g transform="translate(615.20 374.30) rotate(-70)"><text x="-16.90" y="0" text-anchor="end" font-size="16.5" fill="#636363">2001</text><text x="-16.60" y="0.6" font-size="16.6" fill="#636363">年</text></g>
<g transform="translate(693.40 374.30) rotate(-70)"><text x="-16.90" y="0" text-anchor="end" font-size="16.5" fill="#636363">2002</text><text x="-16.60" y="0.6" font-size="16.6" fill="#636363">年</text></g>
<g transform="translate(771.60 374.30) rotate(-70)"><text x="-16.90" y="0" text-anchor="end" font-size="16.5" fill="#636363">2003</text><text x="-16.60" y="0.6" font-size="16.6" fill="#636363">年</text></g>
<g transform="translate(849.80 374.30) rotate(-70)"><text x="-16.90" y="0" text-anchor="end" font-size="16.5" fill="#636363">2003</text><text x="-16.60" y="0.6" font-size="16.6" fill="#636363">年</text></g>
<text x="310.2" y="55.7" font-size="31.2" font-weight="bold" fill="#000" textLength="68.6" lengthAdjust="spacingAndGlyphs">1994</text>
<text x="380.7" y="55.7" font-size="34.7" font-weight="bold" fill="#000">年～</text>
<text x="451.4" y="55.7" font-size="31.2" font-weight="bold" fill="#000" textLength="69.6" lengthAdjust="spacingAndGlyphs">2003</text>
<text x="521.7" y="55.7" font-size="34.7" font-weight="bold" fill="#000">年</text>
<text x="556.4" y="55.7" font-size="31.2" font-weight="bold" fill="#000">_</text>
<text x="575.3" y="55.7" font-size="34.7" font-weight="bold" fill="#000">一括投資</text>
</svg>
<div class="frame"></div>
</div>
</body>
</html>
